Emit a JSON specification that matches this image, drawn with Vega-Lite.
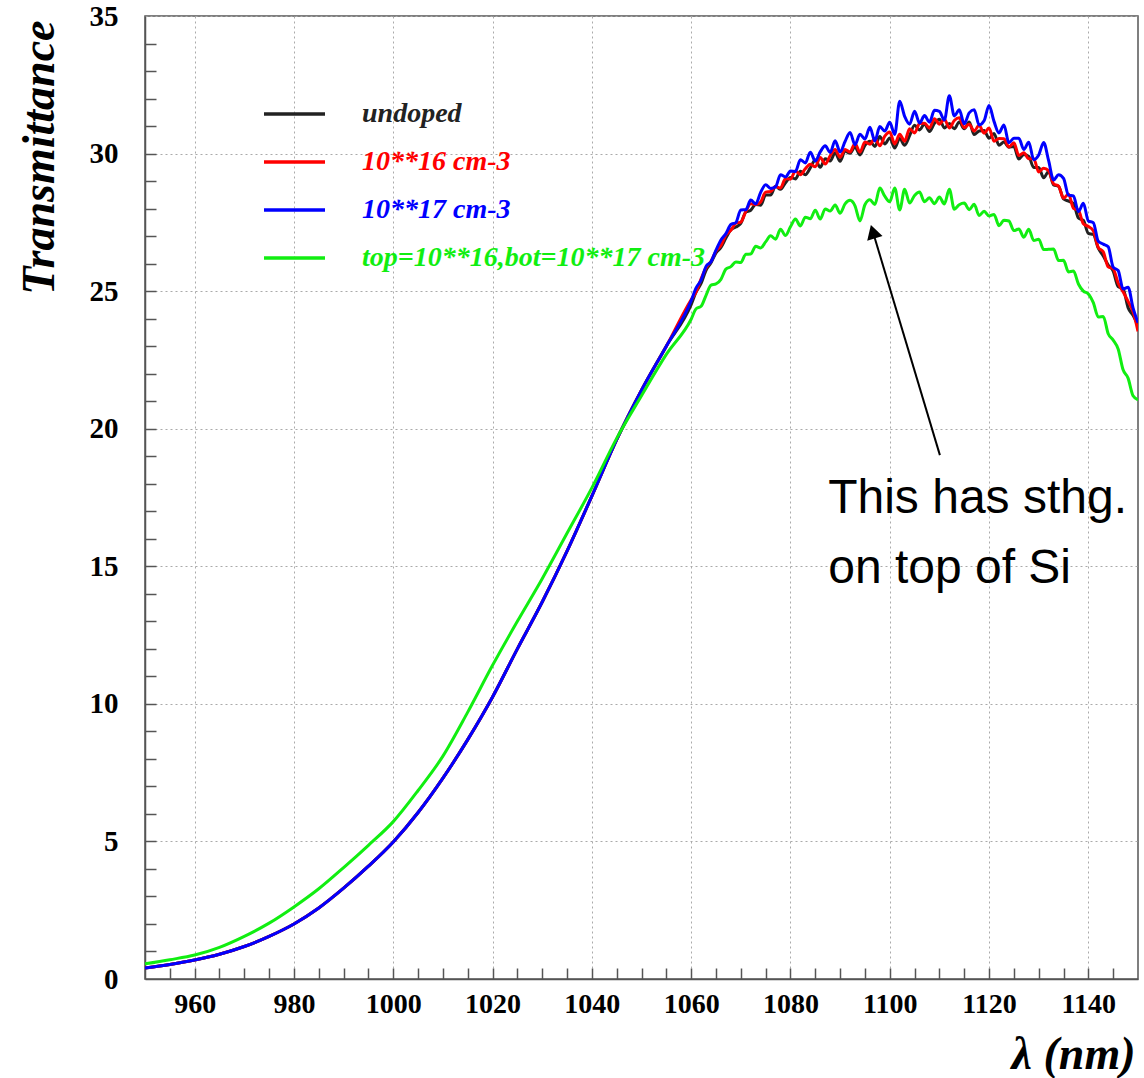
{
  "$schema": "https://vega.github.io/schema/vega-lite/v6.json",
  "width": 993,
  "height": 963,
  "autosize": {"type": "none"},
  "padding": {"left": 145, "top": 16, "right": 6, "bottom": 99},
  "background": "white",
  "config": {"view": {"stroke": "#555555", "strokeWidth": 1.5}},
  "datasets": {
    "spectra": [
      {"x": 950, "u": 0.40, "r": 0.40, "b": 0.40, "g": 0.55},
      {"x": 955, "u": 0.53, "r": 0.53, "b": 0.53, "g": 0.70},
      {"x": 960, "u": 0.69, "r": 0.69, "b": 0.69, "g": 0.87},
      {"x": 965, "u": 0.90, "r": 0.90, "b": 0.90, "g": 1.15},
      {"x": 970, "u": 1.18, "r": 1.18, "b": 1.18, "g": 1.55},
      {"x": 975, "u": 1.55, "r": 1.55, "b": 1.55, "g": 2.03},
      {"x": 980, "u": 2.00, "r": 2.00, "b": 2.00, "g": 2.62},
      {"x": 985, "u": 2.58, "r": 2.58, "b": 2.58, "g": 3.28},
      {"x": 990, "u": 3.30, "r": 3.30, "b": 3.30, "g": 4.05},
      {"x": 995, "u": 4.10, "r": 4.10, "b": 4.10, "g": 4.86},
      {"x": 1000, "u": 4.98, "r": 4.98, "b": 4.98, "g": 5.72},
      {"x": 1005, "u": 6.05, "r": 6.05, "b": 6.05, "g": 6.85},
      {"x": 1010, "u": 7.30, "r": 7.30, "b": 7.30, "g": 8.10},
      {"x": 1015, "u": 8.70, "r": 8.70, "b": 8.70, "g": 9.70},
      {"x": 1020, "u": 10.25, "r": 10.25, "b": 10.25, "g": 11.40},
      {"x": 1025, "u": 12.00, "r": 12.00, "b": 12.00, "g": 13.00},
      {"x": 1030, "u": 13.70, "r": 13.70, "b": 13.70, "g": 14.55},
      {"x": 1035, "u": 15.55, "r": 15.55, "b": 15.55, "g": 16.20},
      {"x": 1040, "u": 17.55, "r": 17.55, "b": 17.55, "g": 17.85},
      {"x": 1045, "u": 19.60, "r": 19.60, "b": 19.60, "g": 19.65},
      {"x": 1050, "u": 21.40, "r": 21.40, "b": 21.40, "g": 21.20},
      {"x": 1055, "u": 23.00, "r": 23.00, "b": 23.00, "g": 22.70},
      {"x": 1060, "u": 24.51, "r": 24.69, "b": 24.65, "g": 23.98},
      {"x": 1061, "u": 24.97, "r": 24.97, "b": 25.12, "g": 24.36},
      {"x": 1062, "u": 25.28, "r": 25.45, "b": 25.40, "g": 24.45},
      {"x": 1063, "u": 25.76, "r": 25.85, "b": 25.90, "g": 24.85},
      {"x": 1064, "u": 26.03, "r": 26.09, "b": 26.07, "g": 25.22},
      {"x": 1065, "u": 26.39, "r": 26.45, "b": 26.49, "g": 25.26},
      {"x": 1066, "u": 26.59, "r": 26.66, "b": 26.86, "g": 25.43},
      {"x": 1067, "u": 26.93, "r": 27.04, "b": 27.09, "g": 25.80},
      {"x": 1068, "u": 27.23, "r": 27.21, "b": 27.42, "g": 25.89},
      {"x": 1069, "u": 27.33, "r": 27.47, "b": 27.49, "g": 26.06},
      {"x": 1070, "u": 27.46, "r": 27.51, "b": 27.95, "g": 26.04},
      {"x": 1071, "u": 27.87, "r": 27.89, "b": 27.96, "g": 26.34},
      {"x": 1072, "u": 27.94, "r": 28.18, "b": 28.31, "g": 26.35},
      {"x": 1073, "u": 28.15, "r": 28.14, "b": 28.17, "g": 26.63},
      {"x": 1074, "u": 28.12, "r": 28.24, "b": 28.59, "g": 26.57},
      {"x": 1075, "u": 28.49, "r": 28.60, "b": 28.87, "g": 26.79},
      {"x": 1076, "u": 28.49, "r": 28.62, "b": 28.73, "g": 27.01},
      {"x": 1077, "u": 28.81, "r": 28.80, "b": 28.79, "g": 26.89},
      {"x": 1078, "u": 28.70, "r": 28.75, "b": 29.23, "g": 27.25},
      {"x": 1079, "u": 28.94, "r": 29.09, "b": 29.15, "g": 27.02},
      {"x": 1080, "u": 29.13, "r": 29.07, "b": 29.37, "g": 27.34},
      {"x": 1081, "u": 29.08, "r": 29.37, "b": 29.35, "g": 27.62},
      {"x": 1082, "u": 29.36, "r": 29.23, "b": 29.78, "g": 27.37},
      {"x": 1083, "u": 29.23, "r": 29.45, "b": 29.66, "g": 27.69},
      {"x": 1084, "u": 29.48, "r": 29.61, "b": 30.05, "g": 27.63},
      {"x": 1085, "u": 29.77, "r": 29.52, "b": 29.73, "g": 27.94},
      {"x": 1086, "u": 29.50, "r": 29.86, "b": 30.06, "g": 27.62},
      {"x": 1087, "u": 29.81, "r": 29.62, "b": 30.28, "g": 27.99},
      {"x": 1088, "u": 29.73, "r": 29.92, "b": 30.04, "g": 27.91},
      {"x": 1089, "u": 30.03, "r": 30.15, "b": 30.47, "g": 28.13},
      {"x": 1090, "u": 29.72, "r": 29.87, "b": 30.06, "g": 27.83},
      {"x": 1091, "u": 30.09, "r": 30.15, "b": 30.44, "g": 28.17},
      {"x": 1092, "u": 30.01, "r": 30.06, "b": 30.77, "g": 28.30},
      {"x": 1093, "u": 30.24, "r": 30.37, "b": 30.32, "g": 28.10},
      {"x": 1094, "u": 29.95, "r": 30.05, "b": 30.70, "g": 27.55},
      {"x": 1095, "u": 30.30, "r": 30.42, "b": 30.53, "g": 28.14},
      {"x": 1096, "u": 30.45, "r": 30.34, "b": 30.96, "g": 28.32},
      {"x": 1097, "u": 30.26, "r": 30.56, "b": 30.46, "g": 28.15},
      {"x": 1098, "u": 30.62, "r": 30.28, "b": 30.98, "g": 28.75},
      {"x": 1099, "u": 30.35, "r": 30.63, "b": 30.82, "g": 28.45},
      {"x": 1100, "u": 30.57, "r": 30.78, "b": 31.14, "g": 28.25},
      {"x": 1101, "u": 30.20, "r": 30.35, "b": 30.69, "g": 28.75},
      {"x": 1102, "u": 30.55, "r": 30.70, "b": 31.90, "g": 27.95},
      {"x": 1103, "u": 30.30, "r": 30.45, "b": 31.35, "g": 28.70},
      {"x": 1104, "u": 30.65, "r": 30.90, "b": 31.07, "g": 28.20},
      {"x": 1105, "u": 31.03, "r": 30.75, "b": 31.54, "g": 28.48},
      {"x": 1106, "u": 30.86, "r": 31.09, "b": 31.11, "g": 28.60},
      {"x": 1107, "u": 31.08, "r": 31.10, "b": 31.38, "g": 28.25},
      {"x": 1108, "u": 30.80, "r": 30.93, "b": 31.14, "g": 28.39},
      {"x": 1109, "u": 31.10, "r": 31.27, "b": 31.57, "g": 28.18},
      {"x": 1110, "u": 31.25, "r": 31.07, "b": 31.53, "g": 28.42},
      {"x": 1111, "u": 30.93, "r": 31.25, "b": 31.22, "g": 28.17},
      {"x": 1112, "u": 31.09, "r": 30.93, "b": 32.10, "g": 28.70},
      {"x": 1113, "u": 30.90, "r": 31.20, "b": 31.37, "g": 27.98},
      {"x": 1114, "u": 31.15, "r": 31.30, "b": 31.59, "g": 28.14},
      {"x": 1115, "u": 30.90, "r": 30.94, "b": 31.08, "g": 28.20},
      {"x": 1116, "u": 31.15, "r": 31.07, "b": 31.48, "g": 27.96},
      {"x": 1117, "u": 30.69, "r": 30.82, "b": 31.59, "g": 28.16},
      {"x": 1118, "u": 30.82, "r": 31.03, "b": 31.04, "g": 27.75},
      {"x": 1119, "u": 30.84, "r": 30.74, "b": 31.19, "g": 27.90},
      {"x": 1120, "u": 30.56, "r": 30.93, "b": 31.75, "g": 27.73},
      {"x": 1121, "u": 30.73, "r": 30.45, "b": 31.17, "g": 27.79},
      {"x": 1122, "u": 30.30, "r": 30.55, "b": 30.75, "g": 27.38},
      {"x": 1123, "u": 30.42, "r": 30.54, "b": 31.04, "g": 27.58},
      {"x": 1124, "u": 30.23, "r": 30.24, "b": 30.39, "g": 27.55},
      {"x": 1125, "u": 30.26, "r": 30.39, "b": 30.56, "g": 27.20},
      {"x": 1126, "u": 29.80, "r": 29.93, "b": 30.56, "g": 27.26},
      {"x": 1127, "u": 29.97, "r": 30.03, "b": 30.15, "g": 26.96},
      {"x": 1128, "u": 29.90, "r": 29.81, "b": 30.41, "g": 27.25},
      {"x": 1129, "u": 29.49, "r": 29.81, "b": 29.78, "g": 26.84},
      {"x": 1130, "u": 29.49, "r": 29.33, "b": 29.95, "g": 26.89},
      {"x": 1131, "u": 29.12, "r": 29.47, "b": 30.40, "g": 26.51},
      {"x": 1132, "u": 29.35, "r": 29.38, "b": 29.74, "g": 26.52},
      {"x": 1133, "u": 28.86, "r": 28.90, "b": 29.04, "g": 26.53},
      {"x": 1134, "u": 28.81, "r": 28.82, "b": 29.23, "g": 26.11},
      {"x": 1135, "u": 28.35, "r": 28.38, "b": 29.10, "g": 26.12},
      {"x": 1136, "u": 28.27, "r": 28.53, "b": 28.49, "g": 25.70},
      {"x": 1137, "u": 28.18, "r": 28.01, "b": 28.46, "g": 25.73},
      {"x": 1138, "u": 27.66, "r": 27.94, "b": 27.89, "g": 25.26},
      {"x": 1139, "u": 27.57, "r": 27.45, "b": 28.19, "g": 25.00},
      {"x": 1140, "u": 27.10, "r": 27.35, "b": 27.55, "g": 24.90},
      {"x": 1141, "u": 27.06, "r": 27.19, "b": 27.49, "g": 24.58},
      {"x": 1142, "u": 26.56, "r": 26.59, "b": 26.81, "g": 24.06},
      {"x": 1143, "u": 26.28, "r": 26.43, "b": 26.71, "g": 24.08},
      {"x": 1144, "u": 25.95, "r": 25.88, "b": 26.61, "g": 23.45},
      {"x": 1145, "u": 25.73, "r": 25.81, "b": 25.87, "g": 23.22},
      {"x": 1146, "u": 25.16, "r": 25.29, "b": 25.75, "g": 22.90},
      {"x": 1147, "u": 25.08, "r": 24.98, "b": 25.08, "g": 22.14},
      {"x": 1148, "u": 24.40, "r": 24.63, "b": 25.14, "g": 21.84},
      {"x": 1149, "u": 24.12, "r": 24.26, "b": 24.39, "g": 21.20},
      {"x": 1150, "u": 23.75, "r": 23.54, "b": 23.85, "g": 21.05}
    ],
    "note": [
      {"x": 1087.6, "y": 16.94, "t": "This has sthg."},
      {"x": 1087.6, "y": 14.39, "t": "on top of Si"}
    ],
    "arrow": [
      {"x": 1110.1, "y": 19.04, "x2": 1096.6, "y2": 27.16}
    ]
  },
  "layer": [
    {
      "data": {"name": "spectra"},
      "transform": [{"fold": ["u", "r", "b", "g"], "as": ["series", "T"]}],
      "mark": {"type": "line", "strokeWidth": 3, "clip": true, "interpolate": "monotone"},
      "encoding": {
        "x": {
          "field": "x", "type": "quantitative",
          "scale": {"domain": [950, 1150], "nice": false, "zero": false},
          "axis": {
            "orient": "bottom",
            "values": [960, 980, 1000, 1020, 1040, 1060, 1080, 1100, 1120, 1140],
            "format": "d",
            "ticks": false, "grid": true, "gridDash": [2, 3], "gridColor": "#aaaaaa", "gridWidth": 1,
            "domainColor": "#555555", "domainWidth": 1.5,
            "labelFont": "Liberation Serif", "labelFontWeight": "bold", "labelFontSize": 28,
            "labelColor": "#000000", "labelPadding": 11, "labelFlush": false, "labelOverlap": false,
            "title": "λ (nm)", "titleFont": "Liberation Serif", "titleFontWeight": "bold",
            "titleFontStyle": "italic", "titleFontSize": 46, "titleColor": "#000000",
            "titleAlign": "right", "titleBaseline": "alphabetic", "titleAngle": 0,
            "titleX": 990, "titleY": 89
          }
        },
        "y": {
          "field": "T", "type": "quantitative",
          "scale": {"domain": [0, 35], "nice": false, "zero": false},
          "axis": {
            "orient": "left",
            "values": [0, 5, 10, 15, 20, 25, 30, 35],
            "format": "d",
            "ticks": false, "grid": true, "gridDash": [2, 3], "gridColor": "#aaaaaa", "gridWidth": 1,
            "domainColor": "#555555", "domainWidth": 1.5,
            "labelFont": "Liberation Serif", "labelFontWeight": "bold", "labelFontSize": 29,
            "labelColor": "#000000", "labelPadding": 27, "labelFlush": false, "labelOverlap": false,
            "title": "Transmittance", "titleFont": "Liberation Serif", "titleFontWeight": "bold",
            "titleFontStyle": "italic", "titleFontSize": 46, "titleColor": "#000000",
            "titleAlign": "right", "titleBaseline": "alphabetic", "titleAngle": -90,
            "titleX": -92, "titleY": 4
          }
        },
        "color": {
          "field": "series", "type": "nominal",
          "scale": {"domain": ["u", "r", "b", "g"], "range": ["#222222", "#ff0000", "#0000ff", "#11ee11"]},
          "legend": {
            "orient": "none", "legendX": 117, "legendY": 74, "direction": "vertical",
            "title": null, "padding": 0,
            "symbolType": "stroke", "symbolSize": 3721, "symbolStrokeWidth": 3.5,
            "clipHeight": 48, "rowPadding": 0, "labelOffset": 35,
            "labelFont": "Liberation Serif", "labelFontWeight": "bold", "labelFontStyle": "italic",
            "labelFontSize": 28, "labelLimit": 600,
            "labelExpr": "datum.value == 'u' ? 'undoped' : datum.value == 'r' ? '10**16 cm-3' : datum.value == 'b' ? '10**17 cm-3' : 'top=10**16,bot=10**17 cm-3'",
            "encode": {"labels": {"update": {"fill": {"scale": "color", "field": "value"}}}}
          }
        }
      }
    },
    {
      "data": {"name": "note"},
      "mark": {"type": "text", "font": "Liberation Sans", "fontSize": 48, "align": "left", "baseline": "alphabetic", "color": "#000000"},
      "encoding": {
        "x": {
          "field": "x", "type": "quantitative",
          "scale": {"domain": [950, 1150], "nice": false, "zero": false},
          "axis": {
            "orient": "bottom",
            "values": [955, 960, 965, 970, 975, 980, 985, 990, 995, 1000, 1005, 1010, 1015, 1020, 1025, 1030, 1035, 1040, 1045, 1050, 1055, 1060, 1065, 1070, 1075, 1080, 1085, 1090, 1095, 1100, 1105, 1110, 1115, 1120, 1125, 1130, 1135, 1140, 1145],
            "ticks": true, "tickSize": -11, "tickColor": "#555555", "tickWidth": 1.5,
            "labels": false, "grid": false, "domain": false, "title": null
          }
        },
        "y": {
          "field": "y", "type": "quantitative",
          "scale": {"domain": [0, 35], "nice": false, "zero": false},
          "axis": {
            "orient": "left",
            "values": [1, 2, 3, 4, 5, 6, 7, 8, 9, 10, 11, 12, 13, 14, 15, 16, 17, 18, 19, 20, 21, 22, 23, 24, 25, 26, 27, 28, 29, 30, 31, 32, 33, 34],
            "ticks": true, "tickSize": -11, "tickColor": "#555555", "tickWidth": 1.5,
            "labels": false, "grid": false, "domain": false, "title": null
          }
        },
        "text": {"field": "t", "type": "nominal"}
      }
    },
    {
      "data": {"name": "arrow"},
      "mark": {"type": "rule", "strokeWidth": 2, "color": "#000000"},
      "encoding": {
        "x": {"field": "x", "type": "quantitative", "scale": {"domain": [950, 1150], "nice": false, "zero": false}, "axis": null},
        "y": {"field": "y", "type": "quantitative", "scale": {"domain": [0, 35], "nice": false, "zero": false}, "axis": null},
        "x2": {"field": "x2"},
        "y2": {"field": "y2"}
      }
    },
    {
      "data": {"name": "arrow"},
      "mark": {"type": "point", "shape": "triangle-up", "filled": true, "color": "#000000", "opacity": 1, "size": 256, "angle": -16.8},
      "encoding": {
        "x": {"field": "x2", "type": "quantitative", "scale": {"domain": [950, 1150], "nice": false, "zero": false}, "axis": null},
        "y": {"field": "y2", "type": "quantitative", "scale": {"domain": [0, 35], "nice": false, "zero": false}, "axis": null}
      }
    }
  ],
  "resolve": {"axis": {"x": "independent", "y": "independent"}}
}
